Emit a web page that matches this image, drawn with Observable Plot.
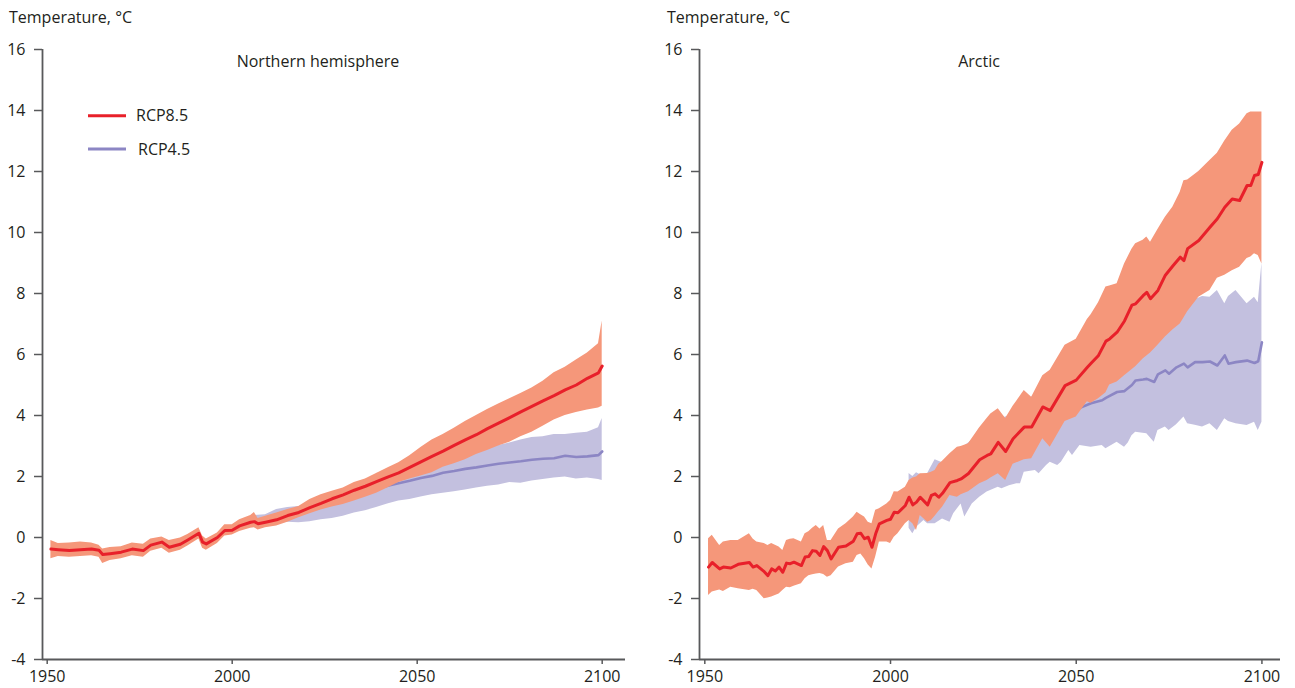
<!DOCTYPE html>
<html>
<head>
<meta charset="utf-8">
<script src="https://cdn.jsdelivr.net/npm/d3@7"></script>
<script src="https://cdn.jsdelivr.net/npm/@observablehq/plot@0.6"></script>
<style>
  html, body { margin: 0; padding: 0; background: #fff; }
  #wrap { position: relative; width: 1295px; height: 688px; overflow: hidden; font-family: "Open Sans", sans-serif; color: #231f20; }
  .panel { position: absolute; top: 0; }
  .lbl { position: absolute; font-size: 16px; line-height: 16px; white-space: nowrap; }
  .ctr { transform: translateX(-50%); }
  svg.leg { position: absolute; left: 0; top: 0; overflow: visible; }
</style>
</head>
<body>
<div id="wrap">
  <div id="left" class="panel" style="left:0px"></div>
  <div id="right" class="panel" style="left:650px"></div>
  <div class="lbl" style="left:9px;top:9px">Temperature, °C</div>
  <div class="lbl" style="left:667px;top:9px">Temperature, °C</div>
  <div class="lbl ctr" id="t1" style="left:318px;top:53px"></div>
  <div class="lbl ctr" id="t2" style="left:979px;top:53px"></div>
  <svg class="leg" width="200" height="200">
    <line x1="88" x2="126" y1="115.7" y2="115.7" stroke="#e8202a" stroke-width="3"/>
    <line x1="88" x2="126" y1="149" y2="149" stroke="#8c86c4" stroke-width="3"/>
  </svg>
  <div class="lbl" id="l1" style="left:136px;top:107px"></div>
  <div class="lbl" id="l2" style="left:138px;top:141px"></div>
</div>
<script>
// ---------- labels ----------
const panelTitles = ["Northern hemisphere", "Arctic"];
const seriesNames = ["RCP8.5", "RCP4.5"];
const xTicks = [1950, 2000, 2050, 2100];
const yTicks = [-4, -2, 0, 2, 4, 6, 8, 10, 12, 14, 16];

// ---------- Northern hemisphere, RCP8.5 ----------
const nh85Year = [1951,1953,1956,1959,1962,1964,1965,1967,1970,1973,1976,1978,1981,1983,1986,1988,1991,1992,1993,1996,1998,2000,2002,2005,2006,2007,2009,2012,2015,2018,2021,2024,2027,2030,2033,2036,2039,2042,2045,2048,2051,2054,2057,2060,2063,2066,2069,2072,2075,2078,2081,2084,2087,2090,2093,2096,2099,2100];
const nh85Mean = [-0.38,-0.4,-0.43,-0.4,-0.38,-0.42,-0.56,-0.53,-0.48,-0.38,-0.43,-0.25,-0.15,-0.32,-0.22,-0.08,0.14,-0.15,-0.21,0.0,0.23,0.24,0.38,0.5,0.52,0.45,0.5,0.58,0.72,0.82,0.98,1.12,1.27,1.4,1.55,1.68,1.83,1.98,2.12,2.3,2.48,2.66,2.83,3.02,3.2,3.37,3.57,3.75,3.93,4.12,4.3,4.48,4.65,4.84,5.0,5.22,5.4,5.62];
const nh85Hi = [-0.1,-0.2,-0.18,-0.15,-0.18,-0.25,-0.38,-0.33,-0.3,-0.18,-0.22,-0.05,0.02,-0.1,-0.02,0.1,0.32,0.05,-0.05,0.15,0.42,0.42,0.58,0.72,0.82,0.62,0.7,0.8,0.92,1.02,1.25,1.4,1.52,1.62,1.8,1.92,2.1,2.28,2.45,2.68,2.95,3.2,3.38,3.58,3.8,4.0,4.2,4.38,4.55,4.72,4.9,5.12,5.4,5.58,5.82,6.05,6.35,7.1];
const nh85Lo = [-0.7,-0.62,-0.65,-0.62,-0.6,-0.65,-0.85,-0.75,-0.7,-0.6,-0.65,-0.45,-0.35,-0.52,-0.42,-0.28,-0.05,-0.35,-0.42,-0.2,0.05,0.08,0.2,0.3,0.32,0.25,0.32,0.38,0.5,0.65,0.78,0.9,1.0,1.08,1.2,1.32,1.45,1.62,1.8,1.92,2.02,2.12,2.3,2.42,2.55,2.72,2.85,3.0,3.12,3.3,3.45,3.65,3.85,4.0,4.1,4.18,4.25,4.3];

// ---------- Northern hemisphere, RCP4.5 ----------
const nh45Year = [2006,2009,2012,2015,2018,2021,2024,2027,2030,2033,2036,2039,2042,2045,2048,2051,2054,2057,2060,2063,2066,2069,2072,2075,2078,2081,2084,2087,2090,2093,2096,2099,2100];
const nh45Mean = [0.5,0.55,0.62,0.72,0.8,0.9,1.02,1.12,1.25,1.38,1.5,1.6,1.7,1.78,1.86,1.95,2.02,2.12,2.18,2.25,2.3,2.36,2.42,2.46,2.5,2.55,2.58,2.6,2.68,2.64,2.66,2.7,2.82];
const nh45Hi = [0.72,0.75,0.92,0.98,1.02,1.05,1.12,1.3,1.42,1.55,1.68,1.82,1.95,2.08,2.2,2.32,2.42,2.55,2.68,2.78,2.88,2.98,3.02,3.1,3.2,3.28,3.3,3.38,3.38,3.42,3.45,3.6,3.9];
const nh45Lo = [0.32,0.35,0.45,0.5,0.48,0.52,0.58,0.62,0.7,0.8,0.88,0.98,1.1,1.2,1.25,1.33,1.4,1.45,1.5,1.56,1.62,1.68,1.72,1.8,1.78,1.85,1.9,1.95,1.98,1.92,1.95,1.9,1.87];

// ---------- Arctic, RCP8.5 ----------
const ar85Year = [1951,1952,1954,1955,1957,1959,1962,1963,1964,1966,1967,1968,1969,1970,1971,1972,1973,1974,1976,1977,1978,1979,1980,1981,1982,1983,1984,1986,1988,1990,1991,1992,1993,1994,1995,1996,1997,1999,2000,2001,2002,2004,2005,2006,2007,2008,2010,2011,2012,2013,2014,2016,2018,2019,2021,2024,2026,2027,2029,2031,2033,2036,2038,2041,2043,2047,2050,2053,2054,2056,2058,2059,2061,2063,2065,2066,2068,2069,2070,2072,2074,2076,2078,2079,2080,2083,2086,2088,2090,2092,2094,2096,2097,2098,2099,2100];
const ar85Mean = [-0.97,-0.82,-1.03,-0.97,-1.0,-0.88,-0.82,-0.97,-0.92,-1.12,-1.25,-1.03,-1.1,-0.97,-1.14,-0.84,-0.86,-0.81,-0.92,-0.64,-0.62,-0.43,-0.45,-0.59,-0.3,-0.43,-0.7,-0.32,-0.28,-0.12,0.12,0.14,-0.04,0.01,-0.32,0.12,0.45,0.56,0.6,0.83,0.81,1.05,1.32,1.07,1.16,1.32,1.07,1.38,1.43,1.32,1.45,1.8,1.87,1.92,2.1,2.55,2.69,2.74,3.12,2.82,3.24,3.62,3.62,4.28,4.16,4.98,5.16,5.58,5.71,5.97,6.44,6.51,6.73,7.1,7.62,7.66,7.93,8.04,7.83,8.1,8.6,8.9,9.19,9.08,9.47,9.74,10.17,10.45,10.83,11.1,11.05,11.54,11.54,11.87,11.9,12.3];
const ar85Hi = [-0.04,0.07,-0.26,-0.15,-0.1,-0.1,0.12,-0.05,-0.15,-0.2,-0.26,-0.2,-0.25,-0.31,-0.43,-0.1,-0.06,-0.04,-0.15,0.12,0.19,0.3,0.39,0.28,0.39,-0.1,-0.1,0.28,0.45,0.67,0.83,0.75,0.67,0.5,0.45,0.89,0.94,1.1,1.21,1.5,1.49,1.65,1.87,1.95,1.98,2.09,2.1,2.14,2.2,2.4,2.5,2.75,2.96,2.98,3.07,3.6,3.9,4.05,4.22,3.9,4.3,4.82,4.6,5.3,5.48,6.3,6.5,7.15,7.3,7.7,8.21,8.25,8.32,8.97,9.45,9.63,9.75,9.85,9.68,10.1,10.5,10.83,11.32,11.7,11.72,12.0,12.36,12.6,13.0,13.35,13.56,13.89,13.95,13.95,13.95,13.95];
const ar85Lo = [-1.9,-1.79,-1.72,-1.77,-1.63,-1.68,-1.74,-1.7,-1.74,-2.01,-1.98,-1.95,-1.9,-1.85,-1.74,-1.63,-1.65,-1.6,-1.52,-1.35,-1.25,-1.22,-1.2,-1.18,-1.21,-1.3,-1.25,-0.97,-0.86,-0.81,-0.59,-0.54,-0.7,-0.9,-1.03,-0.64,-0.15,-0.15,-0.2,0.01,0.12,0.45,0.56,0.45,0.23,0.72,0.5,0.56,0.7,0.85,0.99,1.38,1.32,1.4,1.5,1.76,1.87,1.95,2.09,1.87,2.4,2.55,2.58,3.24,2.96,3.8,3.95,4.45,4.4,4.55,4.75,5.0,5.1,5.3,5.5,5.6,5.85,5.95,6.05,6.3,6.57,6.8,7.0,7.2,7.4,7.88,8.1,8.5,8.6,8.75,8.86,9.15,9.2,9.3,9.25,8.97];

// ---------- Arctic, RCP4.5 ----------
const ar45Year = [2005,2006,2007,2009,2010,2012,2014,2016,2017,2019,2020,2022,2024,2026,2029,2030,2032,2034,2035,2036,2039,2040,2042,2043,2045,2046,2048,2049,2051,2054,2057,2058,2061,2063,2064,2065,2066,2068,2069,2071,2072,2074,2075,2077,2079,2080,2082,2084,2086,2088,2090,2091,2093,2096,2098,2099,2100];
const ar45Mean = [1.0,1.05,1.1,1.15,1.2,1.35,1.45,1.6,1.65,1.8,1.85,2.0,2.15,2.3,2.5,2.6,2.75,2.9,3.0,3.05,3.25,3.35,3.5,3.55,3.75,3.85,4.05,4.12,4.25,4.4,4.5,4.58,4.77,4.8,4.9,5.0,5.15,5.18,5.2,5.1,5.35,5.48,5.37,5.58,5.7,5.58,5.75,5.75,5.77,5.64,5.97,5.7,5.75,5.8,5.72,5.78,6.4];
const ar45Hi = [2.1,2.0,2.12,2.0,2.1,2.55,2.45,2.65,2.7,2.9,3.0,3.2,3.58,3.6,3.9,3.9,4.0,4.2,4.3,4.4,4.7,4.8,5.0,5.1,5.3,5.4,5.6,5.7,5.9,6.1,6.3,6.4,6.6,6.75,6.8,6.9,7.0,7.1,7.2,7.3,7.35,7.5,7.55,7.6,7.7,7.75,7.8,7.9,7.88,8.1,7.66,7.9,8.1,7.66,7.88,7.7,9.0];
const ar45Lo = [0.3,0.12,0.34,0.56,0.45,0.45,0.61,0.5,0.78,1.1,0.67,1.1,1.32,1.49,1.65,1.6,1.7,1.76,1.76,2.14,2.2,2.09,2.36,2.47,2.36,2.47,2.85,2.69,3.02,2.96,3.02,2.91,3.12,2.96,3.1,3.34,3.45,3.42,3.4,3.12,3.51,3.62,3.51,3.7,3.95,3.73,3.68,3.62,3.73,3.51,3.89,3.8,3.73,3.67,3.78,3.51,3.78];

// ---------- build tables ----------
function table(years, mean, lo, hi) {
  return years.map((year, i) => ({year, mean: mean[i], lo: lo[i], hi: hi[i]}));
}
const nh85 = table(nh85Year, nh85Mean, nh85Lo, nh85Hi);
const nh45 = table(nh45Year, nh45Mean, nh45Lo, nh45Hi);
const ar85 = table(ar85Year, ar85Mean, ar85Lo, ar85Hi);
const ar45 = table(ar45Year, ar45Mean, ar45Lo, ar45Hi);

const C = {
  band85: "#f5977a", line85: "#e8202a",
  band45: "#c3c0df", line45: "#8c86c4",
  axis: "#58595b", text: "#231f20"
};

function panel(d85, d45, opts) {
  return Plot.plot({
    width: opts.width,
    height: 688,
    marginTop: 49,
    marginBottom: 29,
    marginLeft: opts.marginLeft,
    marginRight: opts.marginRight,
    style: {fontFamily: "Open Sans", fontSize: "16px", color: C.text, background: "transparent", overflow: "visible"},
    x: {domain: opts.xDomain, label: null},
    y: {domain: [-4, 16], label: null},
    marks: [
      Plot.areaY(d45, {x: "year", y1: "lo", y2: "hi", fill: C.band45}),
      Plot.lineY(d45, {x: "year", y: "mean", stroke: C.line45, strokeWidth: 2.6}),
      Plot.areaY(d85, {x: "year", y1: "lo", y2: "hi", fill: C.band85}),
      Plot.lineY(d85, {x: "year", y: "mean", stroke: C.line85, strokeWidth: 3}),
      Plot.ruleY([-4], {stroke: C.axis, strokeWidth: 1.8}),
      Plot.ruleX([opts.xDomain[0]], {stroke: C.axis, strokeWidth: 1.8}),
      Plot.axisX({ticks: xTicks, tickFormat: d => String(d), tickSize: 5, tickPadding: 6, stroke: C.axis, fill: C.text, strokeWidth: 1.5, label: null}),
      Plot.axisY({ticks: yTicks, tickFormat: d => String(d), tickSize: 8, tickPadding: 9, stroke: C.axis, fill: C.text, strokeWidth: 1.5, label: null})
    ]
  });
}

document.getElementById("left").append(panel(nh85, nh45, {width: 650, marginLeft: 42, marginRight: 25, xDomain: [1948.73, 2106.3]}));
document.getElementById("right").append(panel(ar85, ar45, {width: 645, marginLeft: 49, marginRight: 15, xDomain: [1948.57, 2105.0]}));

document.getElementById("t1").textContent = panelTitles[0];
document.getElementById("t2").textContent = panelTitles[1];
document.getElementById("l1").textContent = seriesNames[0];
document.getElementById("l2").textContent = seriesNames[1];
</script>
</body>
</html>
